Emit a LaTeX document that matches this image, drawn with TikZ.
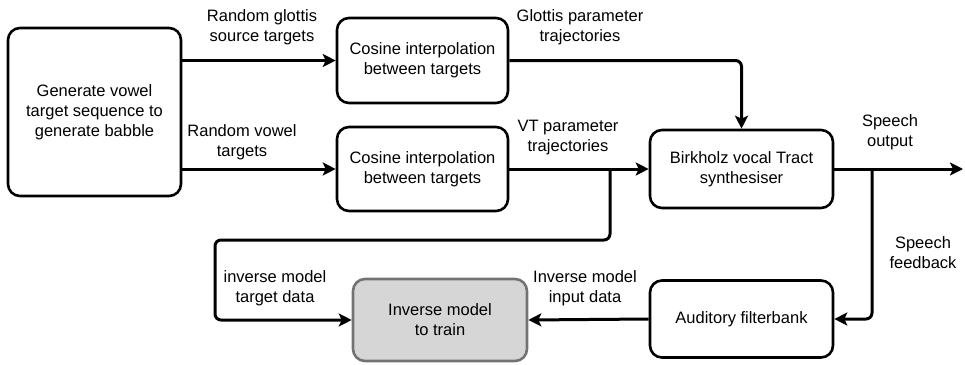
\documentclass[tikz,border=0pt]{standalone}
\usepackage{fontspec}
\setmainfont{Liberation Sans}
\usetikzlibrary{arrows.meta}
\begin{document}
\begin{tikzpicture}[x=1pt,y=1pt,
  every node/.style={font=\fontsize{16.5}{20}\selectfont, align=center, inner sep=0pt},
  box/.style={draw, line width=2.6pt, rounded corners=12pt, fill=white},
  graybox/.style={draw=black!55, line width=2.6pt, rounded corners=12pt, fill=black!16},
  arr/.style={line width=3pt, -{Stealth[length=13pt,width=13pt,inset=3pt]}, rounded corners=6pt},
  lbl/.style={}]
\useasboundingbox (0,0) rectangle (965,-364);
% boxes
\node[box, minimum width=173pt, minimum height=168pt] (gen) at (94.5,-112) {Generate vowel\\target sequence to\\generate babble};
\node[box, minimum width=171pt, minimum height=85pt] (c1) at (422.5,-60.5) {Cosine interpolation\\between targets};
\node[box, minimum width=171pt, minimum height=84pt] (c2) at (422.5,-169) {Cosine interpolation\\between targets};
\node[box, minimum width=183pt, minimum height=78pt] (birk) at (741.5,-169) {Birkholz vocal Tract\\synthesiser};
\node[box, minimum width=183pt, minimum height=77pt] (aud) at (741.5,-319) {Auditory filterbank};
\node[graybox, minimum width=174pt, minimum height=82pt] (inv) at (440,-320) {Inverse model\\to train};
% coordinates
\coordinate (vtb) at (610,-169);
\coordinate (lc) at (215,-240);
\coordinate (sb) at (872,-169);
\coordinate (out) at (963,-169);
% connectors
\draw[arr] (gen.east |- c1.west) -- (c1.west);
\draw[arr] (gen.east |- c2.west) -- (c2.west);
\draw[arr] (c1.east) -| (birk.north);
\draw[arr] (c2.east) -- (birk.west);
\draw[arr] (vtb) -- (vtb |- lc) -- (lc) -- (lc |- inv.west) -- (inv.west);
\draw[arr] (birk.east) -- (out);
\draw[arr] (sb) |- (aud.east);
\draw[arr] (aud.west) -- (inv.east);
% labels
\node[lbl] (l1) at (262,-27) {Random glottis\\source targets};
\node[lbl] (l2) at (242,-142) {Random vowel\\targets};
\node[lbl] (l3) at (580,-27) {Glottis parameter\\trajectories};
\node[lbl] (l4) at (568,-138) {VT parameter\\trajectories};
\node[lbl] (l5) at (890,-132) {Speech\\output};
\node[lbl] (l6) at (923,-253) {Speech\\feedback};
\node[lbl] (l7) at (275,-288) {inverse model\\target data};
\node[lbl] (l8) at (585,-288) {Inverse model\\input data};
\end{tikzpicture}
\end{document}
